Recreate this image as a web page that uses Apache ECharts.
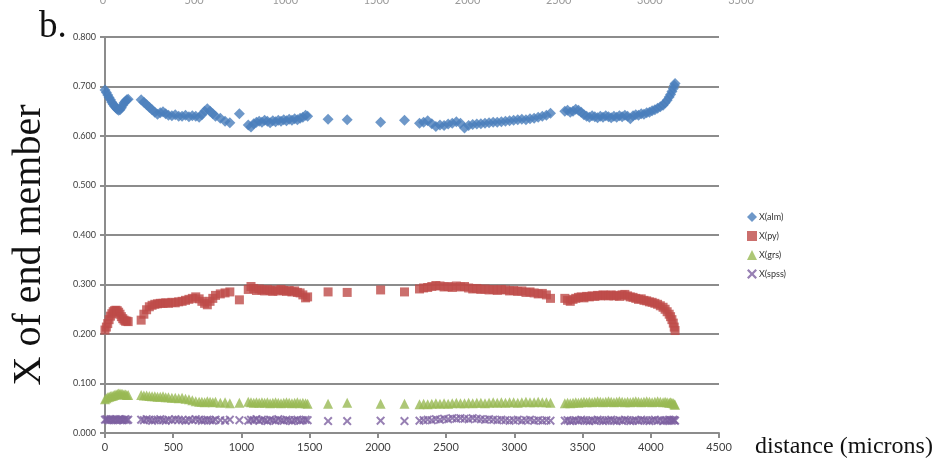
<!DOCTYPE html>
<html>
<head>
<meta charset="utf-8">
<title>Garnet end-member profile</title>
<script src="https://cdn.jsdelivr.net/npm/echarts@6/dist/echarts.min.js"></script>
<style>
  html, body { margin: 0; padding: 0; background: #fff; }
  #chart { width: 936px; height: 464px; }
</style>
</head>
<body>
<div id="chart"></div>
<script>
// Distance along the traverse (microns)
const distance = [
  0,10,20,30,40,50,60,70,80,90,100,110,120,130,140,150,160,170,
  265,285,305,325,345,365,385,405,425,445,465,490,515,540,565,590,615,640,665,690,
  710,730,750,770,790,810,845,880,915,985,1050,1070,1090,1110,1130,1150,1170,1190,
  1210,1230,1250,1270,1290,1310,1330,1350,1370,1390,1410,1430,1450,1470,1485,
  1635,1775,2020,2195,
  2305,2335,2365,2395,2425,2455,2485,2515,2545,2575,2605,2635,2665,2695,2725,2755,
  2785,2815,2845,2875,2905,2935,2965,2995,3025,3055,3085,3115,3145,3175,3205,3235,3265,
  3370,3390,3410,3430,3450,3470,3490,3510,3530,3550,3570,3590,3610,3630,3650,3670,
  3690,3710,3730,3750,3770,3790,3810,3830,3850,3870,3890,3910,3930,3950,3970,3990,
  4010,4030,4050,4070,4090,4105,4120,4135,4145,4155,4165,4172,4178
];

// Almandine mole fraction
const xAlm = [
  0.693,0.688,0.683,0.678,0.673,0.668,0.664,0.660,0.657,0.654,0.652,0.653,0.657,0.662,0.667,0.670,0.673,0.674,
  0.673,0.668,0.663,0.658,0.653,0.648,0.644,0.647,0.649,0.645,0.642,0.641,0.643,0.640,0.640,0.642,0.639,0.641,0.640,0.638,
  0.643,0.650,0.655,0.650,0.645,0.640,0.636,0.630,0.627,0.645,0.622,0.618,0.625,0.628,0.630,0.628,0.632,0.630,
  0.627,0.631,0.629,0.632,0.630,0.633,0.631,0.634,0.632,0.635,0.633,0.636,0.638,0.642,0.640,
  0.634,0.633,0.628,0.632,
  0.626,0.628,0.631,0.625,0.619,0.622,0.621,0.624,0.626,0.629,0.626,0.616,0.621,0.623,0.624,0.625,
  0.626,0.627,0.628,0.628,0.629,0.630,0.631,0.632,0.633,0.634,0.633,0.635,0.636,0.638,0.640,0.642,0.646,
  0.650,0.652,0.648,0.650,0.654,0.652,0.648,0.643,0.640,0.638,0.641,0.639,0.637,0.640,0.638,0.641,
  0.639,0.637,0.640,0.638,0.641,0.639,0.642,0.640,0.635,0.641,0.643,0.642,0.645,0.644,0.647,0.648,
  0.651,0.653,0.656,0.659,0.662,0.667,0.672,0.679,0.684,0.690,0.696,0.702,0.706
];

// Pyrope mole fraction
const xPy = [
  0.208,0.214,0.221,0.229,0.236,0.241,0.245,0.247,0.248,0.247,0.244,0.240,0.235,0.231,0.228,0.226,0.226,0.225,
  0.228,0.240,0.249,0.255,0.258,0.260,0.261,0.262,0.262,0.263,0.262,0.264,0.263,0.265,0.266,0.268,0.270,0.272,0.275,0.271,
  0.266,0.262,0.259,0.266,0.272,0.278,0.281,0.283,0.285,0.269,0.290,0.296,0.292,0.288,0.291,0.289,0.287,0.290,
  0.288,0.286,0.289,0.287,0.290,0.288,0.286,0.288,0.285,0.287,0.284,0.283,0.279,0.273,0.275,
  0.285,0.284,0.289,0.285,
  0.291,0.293,0.294,0.296,0.298,0.297,0.295,0.296,0.294,0.297,0.295,0.296,0.293,0.291,0.292,0.290,
  0.291,0.289,0.290,0.288,0.290,0.289,0.287,0.288,0.286,0.287,0.284,0.285,0.283,0.281,0.282,0.279,0.272,
  0.272,0.268,0.266,0.270,0.272,0.274,0.275,0.273,0.276,0.275,0.277,0.276,0.278,0.277,0.279,0.278,
  0.277,0.279,0.277,0.278,0.276,0.279,0.280,0.277,0.275,0.274,0.272,0.270,0.271,0.268,0.267,0.265,
  0.264,0.262,0.260,0.257,0.254,0.250,0.245,0.240,0.235,0.229,0.222,0.214,0.207
];

// Grossular mole fraction
const xGrs = [
  0.068,0.070,0.072,0.073,0.074,0.075,0.076,0.077,0.078,0.079,0.080,0.080,0.079,0.079,0.078,0.078,0.077,0.077,
  0.077,0.076,0.076,0.075,0.074,0.074,0.073,0.073,0.074,0.072,0.072,0.071,0.071,0.070,0.071,0.069,0.068,0.066,0.064,0.063,
  0.063,0.062,0.064,0.063,0.062,0.063,0.061,0.062,0.060,0.061,0.063,0.062,0.061,0.062,0.061,0.062,0.061,0.062,
  0.060,0.061,0.062,0.061,0.060,0.061,0.062,0.061,0.060,0.061,0.062,0.060,0.061,0.060,0.059,
  0.059,0.061,0.059,0.059,
  0.058,0.059,0.058,0.059,0.060,0.059,0.060,0.059,0.060,0.061,0.060,0.060,0.061,0.060,0.061,0.061,
  0.060,0.061,0.062,0.061,0.062,0.061,0.062,0.062,0.061,0.062,0.063,0.062,0.062,0.063,0.062,0.062,0.061,
  0.060,0.061,0.060,0.061,0.062,0.061,0.062,0.063,0.062,0.063,0.062,0.063,0.064,0.063,0.062,0.063,
  0.064,0.063,0.062,0.063,0.064,0.063,0.062,0.063,0.062,0.063,0.064,0.063,0.062,0.063,0.064,0.063,
  0.062,0.063,0.064,0.063,0.062,0.063,0.062,0.061,0.062,0.061,0.060,0.058,0.057
];

// Spessartine mole fraction
const xSpss = [
  0.027,0.028,0.027,0.026,0.028,0.027,0.026,0.027,0.028,0.026,0.027,0.028,0.027,0.026,0.027,0.028,0.026,0.027,
  0.027,0.026,0.028,0.027,0.025,0.026,0.027,0.028,0.026,0.025,0.027,0.026,0.028,0.027,0.026,0.025,0.027,0.026,0.028,0.027,
  0.025,0.026,0.027,0.026,0.025,0.027,0.026,0.025,0.027,0.026,0.025,0.027,0.026,0.028,0.025,0.027,0.026,0.024,
  0.027,0.026,0.025,0.028,0.026,0.025,0.027,0.026,0.024,0.026,0.027,0.025,0.026,0.027,0.026,
  0.024,0.024,0.025,0.024,
  0.025,0.026,0.027,0.026,0.028,0.027,0.029,0.028,0.030,0.029,0.030,0.029,0.028,0.030,0.029,0.028,
  0.027,0.028,0.027,0.026,0.027,0.026,0.025,0.026,0.027,0.025,0.026,0.027,0.025,0.026,0.025,0.026,0.025,
  0.025,0.026,0.024,0.025,0.026,0.025,0.027,0.026,0.025,0.024,0.026,0.025,0.027,0.026,0.024,0.025,
  0.026,0.027,0.025,0.024,0.026,0.025,0.027,0.026,0.024,0.025,0.026,0.025,0.027,0.026,0.025,0.024,
  0.026,0.027,0.025,0.026,0.024,0.026,0.025,0.027,0.026,0.025,0.027,0.026,0.025
];

const seriesNames = ['X(alm)', 'X(py)', 'X(grs)', 'X(spss)'];
const topAxisTicks = [0, 500, 1000, 1500, 2000, 2500, 3000, 3500];

const crossSymbol = 'path://M0,1.6L1.6,0L5,3.4L8.4,0L10,1.6L6.6,5L10,8.4L8.4,10L5,6.6L1.6,10L0,8.4L3.4,5Z';

function pairs(values) {
  return distance.map((d, i) => [d, values[i]]);
}

const chart = echarts.init(document.getElementById('chart'), null, { renderer: 'canvas' });

const gridColor = '#8c8c8c';
const labelFont = 'Lato, "Open Sans", sans-serif';

const option = {
  backgroundColor: '#ffffff',
  animation: false,
  grid: [
    { left: 105, right: 217, top: 37, bottom: 31, containLabel: false },
    { left: 103, right: 195, top: 14, height: 1, containLabel: false }
  ],
  xAxis: [
    {
      type: 'value', gridIndex: 0, min: 0, max: 4500, interval: 500,
      axisLine: { show: true, lineStyle: { color: gridColor, width: 2 } },
      axisTick: { show: true, length: 5, lineStyle: { color: gridColor, width: 2 } },
      axisLabel: { color: '#404040', fontSize: 11, fontFamily: labelFont, margin: 9,
        formatter: v => String(v) },
      splitLine: { show: false }
    },
    {
      type: 'value', gridIndex: 1, position: 'top', min: 0, max: 3500, interval: 500,
      axisLine: { show: false }, axisTick: { show: false }, splitLine: { show: false },
      axisLabel: {
        color: '#9a9a9a', fontSize: 11, fontFamily: labelFont, margin: 9,
        formatter: v => topAxisTicks.includes(v) ? String(v) : ''
      }
    }
  ],
  yAxis: [
    {
      type: 'value', gridIndex: 0, min: 0, max: 0.8, interval: 0.1,
      axisLine: { show: true, lineStyle: { color: gridColor, width: 2 } },
      axisTick: { show: true, length: 5, lineStyle: { color: gridColor, width: 2 } },
      axisLabel: { color: '#404040', fontSize: 9, fontFamily: labelFont, margin: 9,
        formatter: v => v.toFixed(3) },
      splitLine: { show: true, lineStyle: { color: gridColor, width: 2 } }
    },
    {
      type: 'value', gridIndex: 1, show: false, min: 0, max: 1
    }
  ],
  legend: {
    orient: 'vertical', left: 742, top: 207,
    itemWidth: 10, itemHeight: 10, itemGap: 9,
    textStyle: { color: '#333', fontSize: 9, fontFamily: labelFont, padding: [0, 0, 0, -3] },
    data: seriesNames
  },
  graphic: [
    {
      type: 'text', left: 39, top: 9,
      style: { text: 'b.', font: '37px "Liberation Serif", serif', fill: '#111' }
    },
    {
      type: 'text', x: 29, y: 245, rotation: Math.PI / 2,
      style: { text: 'X of end member', font: '40px "Liberation Serif", serif', fill: '#111',
        align: 'center', verticalAlign: 'middle' }
    },
    {
      type: 'text', x: 755, y: 447,
      style: { text: 'distance (microns)', font: '24px "Liberation Serif", serif', fill: '#111',
        align: 'left', verticalAlign: 'middle' }
    }
  ],
  series: [
    { name: seriesNames[0], type: 'scatter', xAxisIndex: 0, yAxisIndex: 0, symbol: 'diamond', symbolSize: 11,
      itemStyle: { color: '#4a7ebb' }, data: pairs(xAlm) },
    { name: seriesNames[1], type: 'scatter', xAxisIndex: 0, yAxisIndex: 0, symbol: 'rect', symbolSize: 9,
      itemStyle: { color: '#be4b48' }, data: pairs(xPy) },
    { name: seriesNames[2], type: 'scatter', xAxisIndex: 0, yAxisIndex: 0, symbol: 'triangle', symbolSize: 10,
      itemStyle: { color: '#98b954' }, data: pairs(xGrs) },
    { name: seriesNames[3], type: 'scatter', xAxisIndex: 0, yAxisIndex: 0, symbol: crossSymbol, symbolSize: 9,
      itemStyle: { color: '#7d60a0' }, data: pairs(xSpss) }
  ]
};

chart.setOption(option);
</script>
</body>
</html>
